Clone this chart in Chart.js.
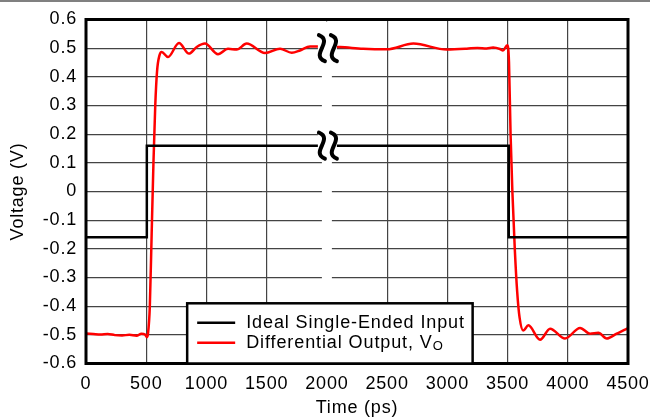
<!DOCTYPE html>
<html>
<head>
<meta charset="utf-8">
<script src="https://cdn.jsdelivr.net/npm/chart.js@4.4.1/dist/chart.umd.min.js"></script>
<style>
  html, body { margin: 0; padding: 0; background: #fff; }
  #wrap { width: 650px; height: 419px; position: relative; }
</style>
</head>
<body>
<div id="wrap"><canvas id="chart" width="650" height="419"></canvas></div>
<script>
// ideal single-ended input (ps, V)
const inputTime = [0, 505, 505, 3510, 3510, 4500]
const inputVolt = [-0.16, -0.16, 0.16, 0.16, -0.16, -0.16]

// differential output VO (ps, V)
const outTime = [0, 60, 120, 180, 240, 300, 360, 420, 460, 490, 505, 515, 530, 545, 560, 575, 590, 610, 628, 681, 772, 855, 919, 988, 1096, 1179, 1251, 1334, 1486, 1611, 1708, 1777, 1860, 1960,
  2109, 2300, 2497, 2718, 2995, 3161, 3250, 3327, 3380, 3437, 3462, 3498, 3512, 3525, 3540, 3560, 3580, 3600, 3630, 3673, 3770, 3853, 3977, 4102, 4185, 4254, 4323, 4406, 4489, 4500]
const outVolt = [-0.495, -0.497, -0.499, -0.497, -0.501, -0.502, -0.500, -0.503, -0.496, -0.499, -0.508, -0.495, -0.40, -0.15, 0.10, 0.30, 0.42, 0.475, 0.487, 0.469, 0.518, 0.481, 0.504, 0.516, 0.479, 0.498, 0.495, 0.516, 0.483, 0.498, 0.484, 0.492, 0.506, 0.505,
  0.504, 0.498, 0.496, 0.516, 0.495, 0.498, 0.501, 0.499, 0.502, 0.497, 0.492, 0.510, 0.45, 0.20, 0.0, -0.20, -0.35, -0.44, -0.485, -0.467, -0.517, -0.479, -0.513, -0.476, -0.496, -0.493, -0.513, -0.496, -0.479, -0.477]

const xTicks = [0, 500, 1000, 1500, 2000, 2500, 3000, 3500, 4000, 4500]
const yTicks = [-0.6, -0.5, -0.4, -0.3, -0.2, -0.1, 0, 0.1, 0.2, 0.3, 0.4, 0.5, 0.6]

const breakTime = 2000
const breakVolts = [0.5, 0.16]

const FONT = 'Liberation Sans, Arial, sans-serif'

const pts = (xs, ys) => xs.map((x, i) => ({ x: x, y: ys[i] }))

function wave(ctx, x, y) {
  ctx.beginPath()
  ctx.moveTo(x - 3, y - 13)
  ctx.bezierCurveTo(x + 12, y - 7, x - 12, y + 7, x + 3, y + 13)
  ctx.stroke()
}

const breakPlugin = {
  id: 'breaks',
  beforeDraw(chart) {
    chart.ctx.letterSpacing = '0.8px'
  },
  beforeDatasetsDraw(chart) {
    const ctx = chart.ctx
    const a = chart.chartArea
    const bx = chart.scales.x.getPixelForValue(breakTime)
    ctx.save()
    ctx.fillStyle = '#fff'
    ctx.fillRect(bx - 5, a.top + 2, 10, a.bottom - a.top - 4)
    ctx.restore()
  },
  afterDatasetsDraw(chart) {
    const ctx = chart.ctx
    const a = chart.chartArea
    const bx = chart.scales.x.getPixelForValue(breakTime)
    ctx.save()
    ctx.strokeStyle = '#000'
    ctx.lineWidth = 4
    ctx.lineCap = 'round'
    breakVolts.forEach(v => {
      const by = chart.scales.y.getPixelForValue(v)
      ctx.fillStyle = '#fff'
      ctx.fillRect(bx - 9, by - 13, 19, 26)
      wave(ctx, bx - 5, by)
      wave(ctx, bx + 7, by)
    })
    // frame
    ctx.lineWidth = 3
    ctx.lineCap = 'butt'
    ctx.strokeRect(a.left, a.top, a.right - a.left, a.bottom - a.top)

    // legend
    const lx = chart.scales.x.getPixelForValue(840)
    const lr = chart.scales.x.getPixelForValue(3210)
    const ly = chart.scales.y.getPixelForValue(-0.39)
    ctx.fillStyle = '#fff'
    ctx.fillRect(lx, ly, lr - lx, a.bottom - ly)
    ctx.lineWidth = 2.5
    ctx.strokeStyle = '#000'
    ctx.strokeRect(lx, ly, lr - lx, a.bottom - ly)
    ctx.font = '18px ' + FONT
    ctx.letterSpacing = '0.9px'
    ctx.textBaseline = 'middle'
    ctx.textAlign = 'left'
    const rows = [ly + 19.5, ly + 39.5]
    ctx.lineWidth = 2.5
    ctx.strokeStyle = '#000'
    ctx.beginPath(); ctx.moveTo(lx + 10, rows[0]); ctx.lineTo(lx + 48, rows[0]); ctx.stroke()
    ctx.strokeStyle = '#ff0000'
    ctx.beginPath(); ctx.moveTo(lx + 10, rows[1]); ctx.lineTo(lx + 48, rows[1]); ctx.stroke()
    ctx.fillStyle = '#000'
    ctx.fillText('Ideal Single-Ended Input', lx + 59, rows[0])
    const t = 'Differential Output, V'
    ctx.fillText(t, lx + 59, rows[1])
    const w = ctx.measureText(t).width
    ctx.font = '13px ' + FONT
    ctx.fillText('O', lx + 59 + w, rows[1] + 4)
    ctx.restore()
  },
  afterDraw(chart) {
    const ctx = chart.ctx
    ctx.save()
    ctx.fillStyle = '#808080'
    ctx.fillRect(0, 0, chart.width, 2)
    ctx.restore()
  }
}

new Chart(document.querySelector('#chart').getContext('2d'), {
  type: 'line',
  data: {
    datasets: [
      {
        label: 'Ideal Single-Ended Input',
        data: pts(inputTime, inputVolt),
        borderColor: '#000',
        borderWidth: 2.5,
        pointRadius: 0,
        tension: 0
      },
      {
        label: 'Differential Output, VO',
        data: pts(outTime, outVolt),
        borderColor: '#ff0000',
        borderWidth: 2.5,
        pointRadius: 0,
        cubicInterpolationMode: 'monotone'
      }
    ]
  },
  options: {
    responsive: false,
    animation: false,
    layout: { padding: { top: 19.5, right: 22, left: 7, bottom: 0 } },
    plugins: { legend: { display: false }, tooltip: { enabled: false } },
    scales: {
      x: {
        type: 'linear',
        min: 0, max: 4500,
        afterBuildTicks: s => { s.ticks = xTicks.map(v => ({ value: v })) },
        afterFit: s => { s.height = 55.5; s.paddingLeft = 0; s.paddingRight = 0 },
        ticks: {
          color: '#000', font: { family: FONT, size: 18 }, padding: 10, maxRotation: 0,
          callback: v => String(v)
        },
        grid: { color: '#444', lineWidth: 1.2, drawTicks: false },
        border: { display: false },
        title: { display: true, text: 'Time (ps)', color: '#000', font: { family: FONT, size: 18 }, padding: { top: 0, bottom: 0 } }
      },
      y: {
        min: -0.6, max: 0.6,
        afterBuildTicks: s => { s.ticks = yTicks.map(v => ({ value: v })) },
        afterFit: s => { s.width = 79; s.paddingTop = 0; s.paddingBottom = 0 },
        ticks: {
          color: '#000', font: { family: FONT, size: 18 }, padding: 9,
          callback: v => String(Math.round(v * 10) / 10)
        },
        grid: { color: '#444', lineWidth: 1.2, drawTicks: false },
        border: { display: false },
        title: { display: true, text: 'Voltage (V)', color: '#000', font: { family: FONT, size: 18 }, padding: { top: 0, bottom: 4 } }
      }
    }
  },
  plugins: [breakPlugin]
})
</script>
</body>
</html>
